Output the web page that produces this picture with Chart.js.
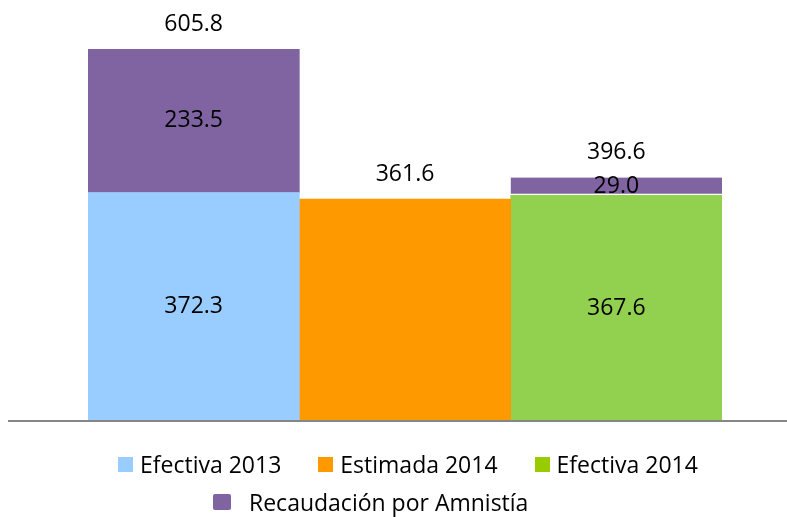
<!DOCTYPE html>
<html>
<head>
<meta charset="utf-8">
<script src="https://cdn.jsdelivr.net/npm/chart.js@4/dist/chart.umd.min.js"></script>
<style>
  body { margin: 0; background: #fff; }
  #wrap { position: relative; width: 787px; height: 517px; }
  #legend { position: absolute; left: 0; top: 0; width: 787px; height: 517px; pointer-events: none;
            font-family: "Open Sans", sans-serif; font-size: 23px; color: #000; }
  .row { position: absolute; display: flex; align-items: center; white-space: nowrap; }
  .item { display: flex; align-items: center; margin-right: 37px; }
  .box { width: 15px; height: 15px; margin-right: 7px; }
</style>
</head>
<body>
<div id="wrap">
  <canvas id="myChart" width="787" height="517"></canvas>
  <div id="legend"></div>
</div>
<script>
const categories = ['Efectiva 2013', 'Estimada 2014', 'Efectiva 2014']
const efectiva2013 = [372.3, null, null]
const estimada2014 = [null, 361.6, null]
const efectiva2014 = [null, null, 367.6]
const amnistia = [233.5, null, 29.0]
const seriesNames = ['Efectiva 2013', 'Estimada 2014', 'Efectiva 2014', 'Recaudación por Amnistía']
const colors = ['#99CCFF', '#FF9900', '#92D050', '#8064A2']
const legendColors = ['#99CCFF', '#FF9900', '#99CC00', '#8064A2']

const FONT = '23px "Open Sans", sans-serif'

// value labels: inside segments, totals / single bar above
const labelPlugin = {
  id: 'labels',
  afterDatasetsDraw(chart) {
    const ctx = chart.ctx
    const y = chart.scales.y
    ctx.save()
    ctx.font = FONT
    ctx.fillStyle = '#000'
    ctx.textAlign = 'center'
    ctx.textBaseline = 'middle'
    chart.data.datasets.forEach((ds, di) => {
      const meta = chart.getDatasetMeta(di)
      meta.data.forEach((el, i) => {
        const v = ds.data[i]
        if (v == null) return
        if (di === 1) {
          ctx.fillText(v.toFixed(1), el.x, el.y - 25)
        } else {
          ctx.fillText(v.toFixed(1), el.x, (el.y + el.base) / 2)
        }
      })
    })
    // totals for stacked bars
    categories.forEach((c, i) => {
      if (amnistia[i] == null) return
      const base = (efectiva2013[i] || 0) + (efectiva2014[i] || 0)
      const total = base + amnistia[i]
      const x = chart.getDatasetMeta(3).data[i].x
      ctx.fillText(total.toFixed(1), x, y.getPixelForValue(total) - 25)
    })
    ctx.restore()
  }
}

// baseline running across the whole width
const axisLine = {
  id: 'axisLine',
  afterDatasetsDraw(chart) {
    const ctx = chart.ctx
    const y0 = chart.scales.y.getPixelForValue(0)
    ctx.save()
    ctx.strokeStyle = '#868686'
    ctx.lineWidth = 2
    ctx.beginPath()
    ctx.moveTo(8, y0)
    ctx.lineTo(787, y0)
    ctx.stroke()
    ctx.restore()
  }
}

const seriesData = [efectiva2013, estimada2014, efectiva2014, amnistia]

const ctx = document.getElementById('myChart').getContext('2d')
const myChart = new Chart(ctx, {
  type: 'bar',
  data: {
    labels: categories,
    datasets: seriesData.map((d, k) => ({
      label: seriesNames[k],
      data: d,
      backgroundColor: colors[k],
      borderColor: '#ffffff',
      borderWidth: k === 3 ? (c => c.dataIndex === 2 ? { bottom: 2 } : 0) : 0,
      borderSkipped: false,
      categoryPercentage: 1,
      barPercentage: 1,
      stack: 's'
    }))
  },
  options: {
    responsive: false,
    animation: false,
    layout: { padding: { left: 88, right: 65, top: 0, bottom: 96 } },
    plugins: { legend: { display: false }, tooltip: { enabled: false } },
    scales: {
      x: { stacked: true, display: false },
      y: { stacked: true, display: false, min: 0, max: 686 }
    }
  },
  plugins: [labelPlugin, axisLine]
})

// legend: three items on first row, amnesty on its own row
const legend = document.getElementById('legend')
const rows = [
  { left: 118, top: 448, items: [0, 1, 2] },
  { left: 213, top: 486, items: [3] }
]
rows.forEach(r => {
  const row = document.createElement('div')
  row.className = 'row'
  row.style.left = r.left + 'px'
  row.style.top = r.top + 'px'
  r.items.forEach(k => {
    const item = document.createElement('div')
    item.className = 'item'
    const box = document.createElement('span')
    box.className = 'box'
    box.style.background = legendColors[k]
    if (k === 3) {
      box.style.width = '18px'
      box.style.height = '16px'
      box.style.borderRadius = '2px'
      box.style.marginRight = '18px'
    }
    const t = document.createElement('span')
    t.textContent = seriesNames[k]
    item.appendChild(box)
    item.appendChild(t)
    row.appendChild(item)
  })
  legend.appendChild(row)
})
</script>
</body>
</html>
